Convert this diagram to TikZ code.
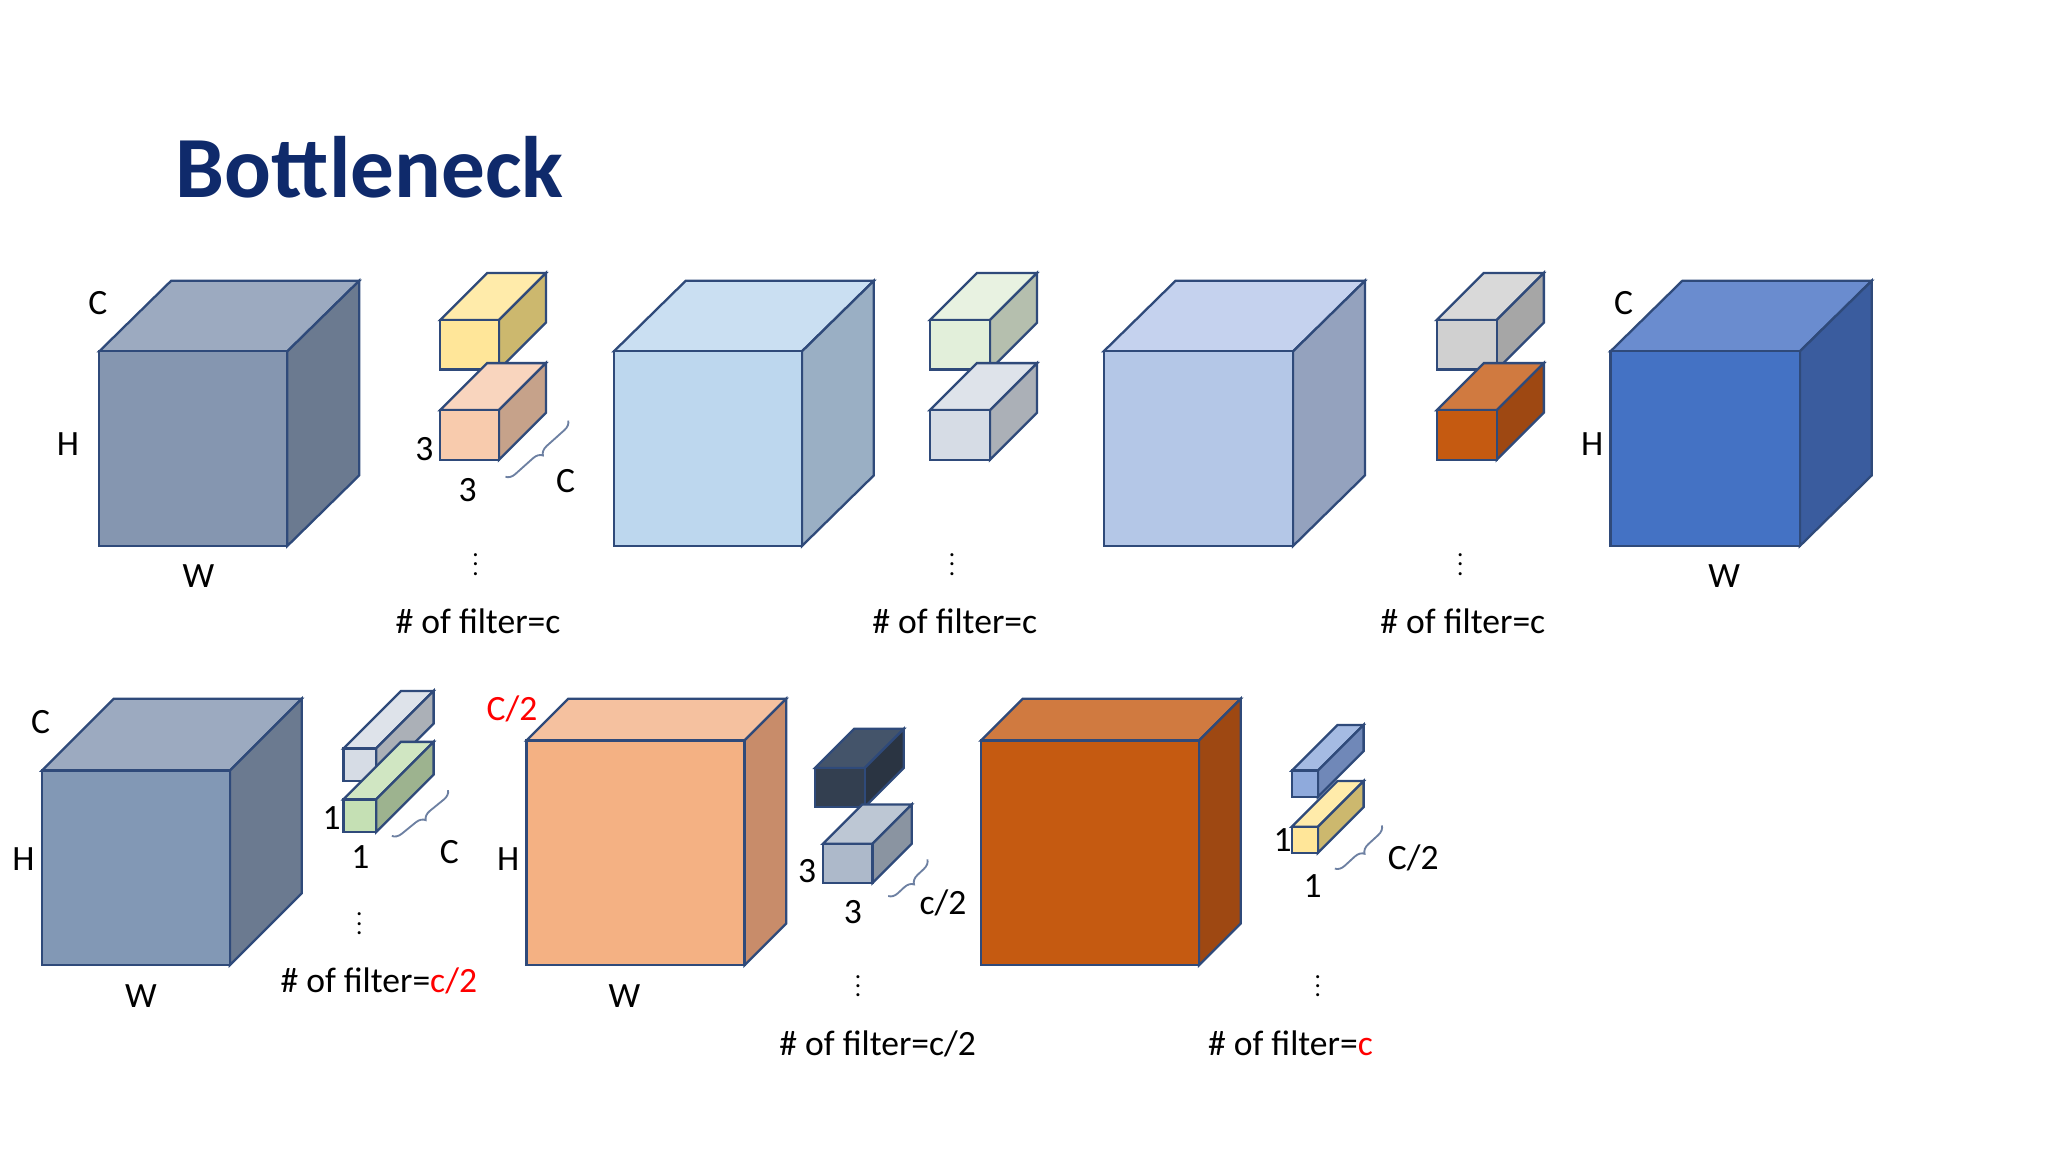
\documentclass[tikz,border=0pt]{standalone}
\usepackage{fontspec}
\setmainfont{Carlito}
\usetikzlibrary{decorations.pathreplacing}
\definecolor{edge}{HTML}{2F4A7A}
\definecolor{navy}{HTML}{0F2A6B}
\newcommand\mycube[9]{%
 \definecolor{cf}{HTML}{#7}\definecolor{ct}{HTML}{#8}\definecolor{cs}{HTML}{#9}%
 \filldraw[draw=edge,line width=1pt,fill=ct] (#1,#2)--(#1+#5,#2-#6)--(#3+#5,#2-#6)--(#3,#2)--cycle;
 \filldraw[draw=edge,line width=1pt,fill=cs] (#3,#2)--(#3+#5,#2-#6)--(#3+#5,#4-#6)--(#3,#4)--cycle;
 \filldraw[draw=edge,line width=1pt,fill=cf] (#1,#2) rectangle (#3,#4);}
\begin{document}
\begin{tikzpicture}[x=0.02cm,y=-0.02cm,
 lab/.style={font=\fontsize{15.5}{17}\selectfont,inner sep=0pt},
 dts/.style={font=\fontsize{11}{12}\selectfont,inner sep=0pt},
 br/.style={decorate,decoration={brace,amplitude=4pt},draw=edge!70,line width=0.8pt}]
\useasboundingbox[fill=white] (0,0) rectangle (1568,882);
\node[font=\fontsize{38}{42}\selectfont\bfseries,text=navy] (title) at (283,128) {Bottleneck};
% row 1
\mycube{76}{269}{220}{418}{55}{54}{8596B0}{9CAAC0}{6B7A90}
\node[lab] (c1) at (75,232) {C}; \node[lab] (h1) at (52,340) {H}; \node[lab] (w1) at (152,441) {W};
\mycube{337}{245}{382}{283}{36}{36}{FFE699}{FFEBAA}{CCB86E}
\mycube{337}{314}{382}{352}{36}{36}{F8CBAD}{F9D5BE}{C6A28A}
\node[lab] at (325,344) {3}; \node[lab] at (358,375) {3}; \node[lab] at (433,368) {C};
\draw[br] (435,322) -- (387,365);
\node[dts] at (364,427) {$\vdots$}; \node[lab] at (366,476) {\# of filter=c};
\mycube{470}{269}{614}{418}{55}{54}{BDD7EE}{CADFF2}{9AAFC4}
\mycube{712}{245}{758}{283}{36}{36}{E2EFDA}{E8F2E1}{B5BFAE}
\mycube{712}{314}{758}{352}{36}{36}{D6DCE5}{DEE3EA}{ABB0B7}
\node[dts] at (729,427) {$\vdots$}; \node[lab] at (731,476) {\# of filter=c};
\mycube{845}{269}{990}{418}{55}{54}{B4C7E7}{C5D2EE}{94A2BE}
\mycube{1100}{245}{1146}{283}{36}{36}{D0D0D0}{D9D9D9}{A6A6A6}
\mycube{1100}{314}{1146}{352}{36}{36}{C55A11}{D07A40}{9E4812}
\node[dts] at (1118,427) {$\vdots$}; \node[lab] at (1120,476) {\# of filter=c};
\mycube{1233}{269}{1378}{418}{55}{54}{4472C4}{6A8CCF}{3A5C9E}
\node[lab] at (1243,232) {C}; \node[lab] at (1219,340) {H}; \node[lab] at (1320,441) {W};
% row 2
\mycube{32}{590}{176}{739}{55}{55}{8298B5}{9CAAC0}{6B7A90}
\node[lab] at (31,553) {C}; \node[lab] at (18,658) {H}; \node[lab] at (108,763) {W};
\mycube{263}{573}{288}{598}{44}{44}{D6DCE5}{DEE3EA}{ABB0B7}
\mycube{263}{612}{288}{637}{44}{44}{C5E0B4}{D0E6C2}{9DB38F}
\node[lab] at (254,626) {1}; \node[lab] at (276,656) {1}; \node[lab] at (344,652) {C};
\draw[br] (343,605) -- (300,640);
\node[dts] at (275,702) {$\vdots$}; \node[lab] at (290,751) {\# of filter=\textcolor{red}{c/2}};
\mycube{403}{567}{570}{739}{32}{32}{F4B183}{F5C19F}{C88C6A}
\node[lab,text=red] at (392,543) {C/2}; \node[lab] at (389,658) {H}; \node[lab] at (478,763) {W};
\mycube{624}{588}{662}{618}{30}{30}{333F50}{44546A}{2A3442}
\mycube{630}{646}{668}{676}{30}{30}{ADB9CA}{BDC7D4}{8A94A1}
\node[lab] at (618,667) {3}; \node[lab] at (653,698) {3}; \node[lab] at (722,691) {c/2};
\draw[br] (710,658) -- (680,686);
\node[dts] at (657,750) {$\vdots$}; \node[lab] at (672,799) {\# of filter=c/2};
\mycube{751}{567}{918}{739}{32}{32}{C55A11}{D07A40}{9E4812}
\mycube{989}{590}{1009}{610}{35}{35}{8FAADC}{A5BBE3}{7088B8}
\mycube{989}{633}{1009}{653}{35}{35}{FFE699}{FFEBAA}{CCB86E}
\node[lab] at (982,643) {1}; \node[lab] at (1005,678) {1}; \node[lab] at (1082,657) {C/2};
\draw[br] (1058,632) -- (1022,665);
\node[dts] at (1009,750) {$\vdots$}; \node[lab] at (988,799) {\# of filter=\textcolor{red}{c}};
\end{tikzpicture}
\end{document}
